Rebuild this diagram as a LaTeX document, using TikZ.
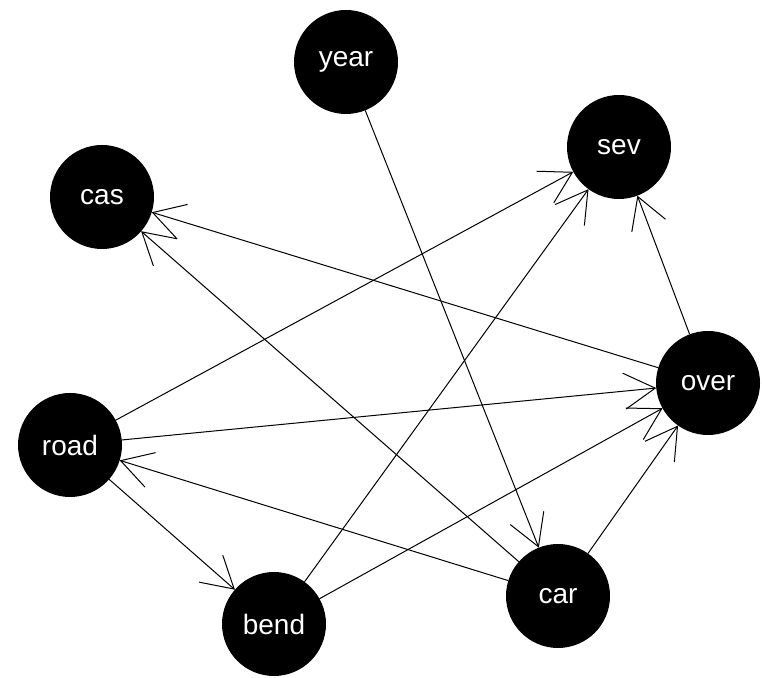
\documentclass[tikz,border=0pt]{standalone}
\usepackage{fontspec}
\setmainfont{Liberation Sans}
\usetikzlibrary{arrows.meta}
\tikzset{
  vnode/.style={circle,fill=black,minimum size=104pt,inner sep=0pt,outer sep=0pt,text=white,font=\fontsize{28}{28}\selectfont},
  edge/.style={line width=1pt,-{Straight Barb[length=31pt,width=36pt,line width=1pt]}}
}
\begin{document}
\begin{tikzpicture}[x=1pt,y=1pt]
\useasboundingbox (0,0) rectangle (762,677);
\node[vnode] (year) at (346,615) {year};
\node[vnode] (sev)  at (619,530) {sev};
\node[vnode] (cas)  at (102,480) {cas};
\node[vnode] (over) at (708,294) {over};
\node[vnode] (road) at (70,232) {road};
\node[vnode] (car)  at (558,81) {car};
\node[vnode] (bend) at (274,53) {bend};
\draw[edge] (year) -- (car);
\draw[edge] (road) -- (sev);
\draw[edge] (road) -- (over);
\draw[edge] (road) -- (bend);
\draw[edge] (car) -- (road);
\draw[edge] (car) -- (cas);
\draw[edge] (car) -- (over);
\draw[edge] (over) -- (cas);
\draw[edge] (over) -- (sev);
\draw[edge] (bend) -- (sev);
\draw[edge] (bend) -- (over);
\end{tikzpicture}
\end{document}
